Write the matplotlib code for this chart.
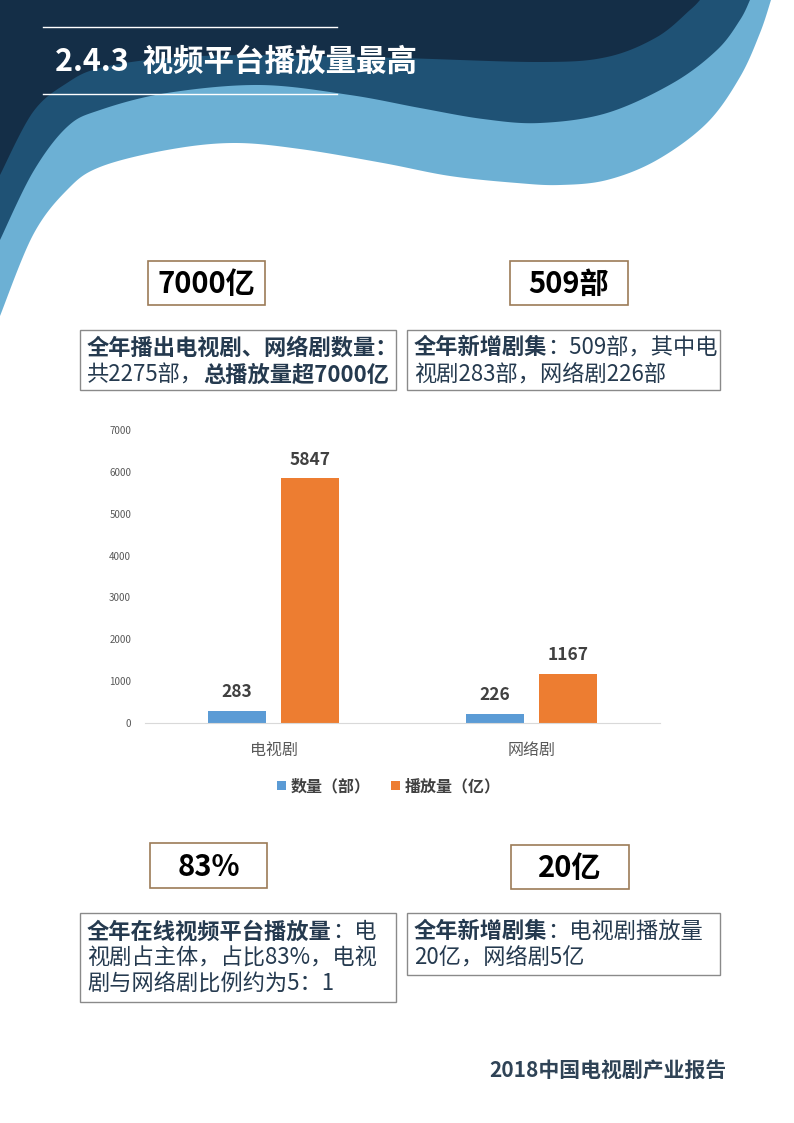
import numpy as np
import matplotlib
matplotlib.use("Agg")
import matplotlib.pyplot as plt
from matplotlib.patches import Rectangle, Polygon

plt.rcParams['font.family'] = ['Noto Sans CJK SC', 'DejaVu Sans']

# chart data
categories = ['电视剧', '网络剧']
count_values = [283, 226]        # 数量（部）
play_values = [5847, 1167]       # 播放量（亿）
series_names = ['数量（部）', '播放量（亿）']
y_ticks = [0, 1000, 2000, 3000, 4000, 5000, 6000, 7000]

# page texts
title = '2.4.3  视频平台播放量最高'
footer = '2018中国电视剧产业报告'
big_numbers = ['7000亿', '509部', '83%', '20亿']

W, H = 794, 1123
fig = plt.figure(figsize=(W / 100, H / 100), dpi=100)
fig.patch.set_facecolor('white')

bg = fig.add_axes([0, 0, 1, 1])
bg.set_xlim(0, W)
bg.set_ylim(H, 0)
bg.axis('off')


def catmull(pts, n=20):
    # smooth curve through the given points (decoration only)
    p = np.array(pts, dtype=float)
    p = np.vstack([p[0], p, p[-1]])
    out = []
    for i in range(1, len(p) - 2):
        p0, p1, p2, p3 = p[i - 1], p[i], p[i + 1], p[i + 2]
        for t in np.linspace(0, 1, n, endpoint=False):
            t2, t3 = t * t, t * t * t
            out.append(0.5 * ((2 * p1) + (-p0 + p2) * t +
                              (2 * p0 - 5 * p1 + 4 * p2 - p3) * t2 +
                              (-p0 + 3 * p1 - 3 * p2 + p3) * t3))
    out.append(p[-2])
    return np.array(out)


light_edge = [(0, 316), (33, 235), (67, 190), (100, 167), (167, 150), (233, 143),
              (300, 149), (383, 163), (450, 176), (517, 183), (560, 185), (607, 180),
              (657, 160), (707, 123), (740, 77), (760, 33), (771, 0)]
mid_edge = [(0, 240), (33, 172), (67, 127), (100, 110), (167, 93), (260, 85),
            (350, 95), (420, 108), (483, 119), (540, 123), (607, 113), (673, 83),
            (717, 50), (740, 20), (750, 0)]
dark_edge = [(0, 175), (33, 112), (67, 83), (100, 68), (167, 58), (260, 55),
             (400, 58), (540, 62), (607, 57), (657, 37), (690, 10), (700, 0)]

for edge, col in [(light_edge, '#6cb0d4'), (mid_edge, '#1f5275'), (dark_edge, '#142e47')]:
    c = catmull(edge)
    poly = np.vstack([c, [[0, 0]]])
    bg.add_patch(Polygon(poly, closed=True, facecolor=col, edgecolor='none', zorder=1))

# title block
bg.plot([43, 337], [27, 27], color='white', lw=1, zorder=2)
bg.plot([43, 337], [94, 94], color='white', lw=1, zorder=2)
bg.text(55, 62, title, color='white', fontsize=22, fontweight='bold', va='center', ha='left', zorder=3)

# big number boxes
num_boxes = [(148, 261, 265, 305), (510, 261, 628, 305), (150, 843, 267, 888), (511, 845, 629, 889)]
for (x0, y0, x1, y1), txt in zip(num_boxes, big_numbers):
    bg.add_patch(Rectangle((x0, y0), x1 - x0, y1 - y0, facecolor='white', edgecolor='#9c7b58', lw=1.2, zorder=2))
    bg.text((x0 + x1) / 2, (y0 + y1) / 2 + 1, txt, fontsize=21, fontweight='bold', color='black',
            ha='center', va='center', zorder=3)

# description boxes
desc_boxes = [(80, 330, 396, 390), (407, 330, 720, 390), (80, 913, 396, 1002), (407, 913, 720, 975)]
for (x0, y0, x1, y1) in desc_boxes:
    bg.add_patch(Rectangle((x0, y0), x1 - x0, y1 - y0, facecolor='white', edgecolor='#8a8a8a', lw=1, zorder=2))

renderer = fig.canvas.get_renderer()
text_col = '#253a4f'


def rich_line(x, y, parts, size=16):
    for txt, bold in parts:
        t = bg.text(x, y, txt, fontsize=size, fontweight='bold' if bold else 'normal',
                    color=text_col, ha='left', va='center', zorder=3)
        x += t.get_window_extent(renderer).width


rich_line(87, 348, [('全年播出电视剧、网络剧数量：', True)])
rich_line(87, 375, [('共2275部，', False), ('总播放量超7000亿', True)])
rich_line(414, 348, [('全年新增剧集', True), ('：509部，其中电', False)])
rich_line(414, 375, [('视剧283部，网络剧226部', False)])
rich_line(87, 932, [('全年在线视频平台播放量', True), ('：电', False)])
rich_line(87, 958, [('视剧占主体，占比83%，电视', False)])
rich_line(87, 984, [('剧与网络剧比例约为5：1', False)])
rich_line(414, 932, [('全年新增剧集', True), ('：电视剧播放量', False)])
rich_line(414, 958, [('20亿，网络剧5亿', False)])

bg.text(727, 1070, footer, fontsize=15, fontweight='bold', color='#2f4356', ha='right', va='center')

# bar chart
ax = fig.add_axes([145 / W, 1 - 723 / H, 515 / W, 293 / H])
x = np.arange(len(categories))
bw = 0.226
off = 0.142
b1 = ax.bar(x - off, count_values, bw, color='#5b9bd5', label=series_names[0])
b2 = ax.bar(x + off, play_values, bw, color='#ed7d31', label=series_names[1])
for bars in (b1, b2):
    for r in bars:
        ax.annotate(f'{int(r.get_height())}', (r.get_x() + r.get_width() / 2, r.get_height()),
                    xytext=(0, 7), textcoords='offset points', ha='center', va='bottom',
                    fontsize=12.5, fontweight='bold', color='#404040')
ax.set_xlim(-0.5, 1.5)
ax.set_ylim(0, 7000)
ax.set_yticks(y_ticks)
ax.set_xticks(x)
ax.set_xticklabels(categories)
ax.tick_params(axis='y', length=0, labelsize=7, labelcolor='#595959', pad=10)
ax.tick_params(axis='x', length=0, labelsize=11.5, labelcolor='#595959', pad=14)
for s in ['top', 'right', 'left']:
    ax.spines[s].set_visible(False)
ax.spines['bottom'].set_color('#d9d9d9')
ax.set_facecolor('none')
leg = ax.legend(loc='center', bbox_to_anchor=(389 / W, 1 - 786 / H), bbox_transform=fig.transFigure,
                ncol=2, frameon=False, handlelength=0.55, handleheight=0.55, handletextpad=0.3,
                columnspacing=1.3, prop={'size': 11.5, 'weight': 'bold'})
for t in leg.get_texts():
    t.set_color('#404040')

fig.savefig('out.png', dpi=100)
